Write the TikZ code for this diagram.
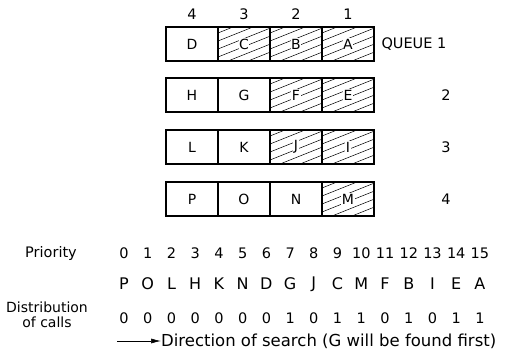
\documentclass[tikz,border=0pt]{standalone}
\usepackage{fontspec}
\setmainfont{DejaVu Sans}
\usepackage{xcolor}
\usetikzlibrary{arrows.meta}
\newcommand{\onwhite}[1]{{\setlength{\fboxsep}{0.5pt}\colorbox{white}{#1}}}

\begin{document}
\begin{tikzpicture}[x=1pt, y=-1pt,
  cell/.style={draw, line width=1.1pt, minimum width=52pt, minimum height=34pt, inner sep=0pt, font=\fontsize{14}{16}\selectfont},
  busy/.style={cell, path picture={\foreach \k in {-28,-20,...,36} \draw[line width=0.5pt] ([yshift=\k pt]path picture bounding box.south west) -- ++(60pt,24pt);}},
  head/.style={font=\fontsize{14.5}{16}\selectfont},
  seq/.style={font=\fontsize{16}{18}\selectfont, inner sep=0pt},
  num/.style={seq, font=\fontsize{14.5}{16}\selectfont},
  side/.style={align=center, font=\fontsize{14.5}{12.5}\selectfont, inner sep=0pt},
  arrow/.style={-{Latex[length=10pt, width=5pt]}, line width=0.6pt}
]
\useasboundingbox (0,0) rectangle (511,362);
% queues, highest column on the left
\node[head] (c4) at (192,14) {4};
\node[head] (c3) at (244,14) {3};
\node[head] (c2) at (296,14) {2};
\node[head] (c1) at (348,14) {1};

\node[cell] (q1d) at (192,44) {D};
\node[busy] (q1c) at (244,44) {\onwhite{C}};
\node[busy] (q1b) at (296,44) {\onwhite{B}};
\node[busy] (q1a) at (348,44) {\onwhite{A}};
\node[head, anchor=west] (q1lab) at (378,44) {QUEUE 1};

\node[cell] (q2h) at (192,95) {H};
\node[cell] (q2g) at (244,95) {G};
\node[busy] (q2f) at (296,95) {\onwhite{F}};
\node[busy] (q2e) at (348,95) {\onwhite{E}};
\node[head] (q2lab) at (446,95) {2};

\node[cell] (q3l) at (192,147) {L};
\node[cell] (q3k) at (244,147) {K};
\node[busy] (q3j) at (296,147) {\onwhite{J}};
\node[busy] (q3i) at (348,147) {\onwhite{I}};
\node[head] (q3lab) at (446,147) {3};

\node[cell] (q4p) at (192,199) {P};
\node[cell] (q4o) at (244,199) {O};
\node[cell] (q4n) at (296,199) {N};
\node[busy] (q4m) at (348,199) {\onwhite{M}};
\node[head] (q4lab) at (446,199) {4};

% search order
\node[side] (prilab) at (51,253) {Priority};
\foreach \i in {0,...,15}
  \node[num] (pri\i) at (124+23.73*\i,253) {\i};
\foreach \lt [count=\i from 0] in {P,O,L,H,K,N,D,G,J,C,M,F,B,I,E,A}
  \node[seq] (let\i) at (124+23.73*\i,284) {\lt};
\node[side, font=\fontsize{14}{14.5}\selectfont] (distlab) at (47,315) {Distribution\\of calls};
\foreach \c [count=\i from 0] in {0,0,0,0,0,0,0,1,0,1,1,0,1,0,1,1}
  \node[num] (call\i) at (124+23.73*\i,318) {\c};
\coordinate (arrtail) at (117,341);
\node[seq, anchor=west, font=\fontsize{16.5}{18}\selectfont] (dir) at (161,341) {Direction of search (G will be found first)};
\draw[arrow] (arrtail) -- (dir.west);
\end{tikzpicture}
\end{document}
